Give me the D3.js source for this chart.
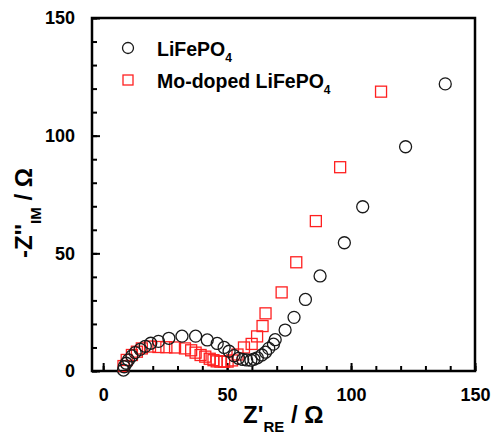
<!DOCTYPE html>
<html>
<head>
<meta charset="utf-8">
<script src="https://cdn.jsdelivr.net/npm/d3@7"></script>
<style>
  body { margin: 0; background: #fff; }
  text { font-family: "Liberation Sans", Arial, sans-serif; font-weight: bold; }
</style>
</head>
<body>
<div id="chart"></div>
<script>
// LiFePO4 (circles)
var pureX = [8.2, 8.5, 9.3, 10.2, 11.6, 12.9, 14.9, 17, 19.2, 22.3, 26.5, 31.8, 37.3, 42, 46, 48.8, 50.8, 52.8, 54.6, 56.3,
             57.9, 59.6, 60.8, 62.2, 64, 65.5, 66.8, 68.7, 69.4, 73.4, 77, 81.6, 87.5, 97.3, 104.7, 122, 138];
var pureY = [0.4, 1.8, 3.3, 4.7, 6.4, 7.8, 9.2, 10.5, 11.8, 12.6, 13.9, 14.8, 14.8, 13.2, 11.7, 10, 8.4, 6.5, 5.4, 4.9,
             4.7, 4.6, 5.0, 5.6, 6.8, 8.0, 9.6, 11.4, 13.3, 17.4, 22.8, 30.4, 40.4, 54.5, 69.8, 95.3, 122];
// Mo-doped LiFePO4 (squares)
var moX = [8.2, 9.5, 11.6, 13.6, 15.6, 18.9, 22.3, 25.5, 29, 33, 35.5, 37.3, 39.3, 41.2, 43, 44.5, 45.8, 47.3, 48.8, 50.2,
           52, 54.2, 56.8, 59.9, 62.1, 64.3, 65.5, 72, 77.9, 85.8, 95.6, 112.1];
var moY = [2.1, 4.7, 6.8, 8.2, 9.6, 10.4, 10.2, 10.1, 10, 9.6, 8.8, 7.8, 6.8, 6.1, 5.2, 4.6, 4.1, 4, 4, 4,
           4.5, 7, 10, 11.5, 14.7, 19.1, 24.5, 33.4, 46.2, 63.7, 86.6, 118.7];
var majorTicks = [0, 50, 100, 150];
var minorTicks = d3.range(0, 151, 10);

var padding = { left: 92, right: 475, top: 18, bottom: 371 };

var svg = d3.select("#chart").append("svg")
    .attr("width", 495)
    .attr("height", 436);

var x = d3.scaleLinear().domain([-4.5, 150]).range([padding.left, padding.right]);
var y = d3.scaleLinear().domain([0, 150]).range([padding.bottom, padding.top]);

// ticks (inward)
var gx = svg.append("g").attr("transform", "translate(0," + padding.bottom + ")");
gx.call(d3.axisBottom(x).tickValues(minorTicks).tickSize(-5).tickFormat(""));
gx.append("g").call(d3.axisBottom(x).tickValues(majorTicks).tickSize(-8).tickPadding(17).tickFormat(d3.format("d")));
gx.selectAll("path").remove();
gx.selectAll("line").attr("stroke", "#000").attr("stroke-width", 2);
gx.selectAll("text").style("font-size", "18px").attr("fill", "#000")
    .style("font-family", "'Liberation Sans', Arial, sans-serif").style("font-weight", "bold");

var gy = svg.append("g").attr("transform", "translate(" + padding.left + ",0)");
gy.call(d3.axisLeft(y).tickValues(minorTicks).tickSize(-5).tickFormat(""));
gy.append("g").call(d3.axisLeft(y).tickValues(majorTicks).tickSize(-8).tickPadding(17).tickFormat(d3.format("d")));
gy.selectAll("path").remove();
gy.selectAll("line").attr("stroke", "#000").attr("stroke-width", 2);
gy.selectAll("text").style("font-size", "18px").attr("fill", "#000")
    .style("font-family", "'Liberation Sans', Arial, sans-serif").style("font-weight", "bold");

// frame
svg.append("rect")
    .attr("x", padding.left).attr("y", padding.top)
    .attr("width", padding.right - padding.left).attr("height", padding.bottom - padding.top)
    .attr("fill", "none").attr("stroke", "#000").attr("stroke-width", 2.5);

// data
var pure = pureX.map(function (d, i) { return [d, pureY[i]]; });
var mo = moX.map(function (d, i) { return [d, moY[i]]; });

svg.append("g").selectAll("rect").data(mo).enter().append("rect")
    .attr("x", d => x(d[0]) - 5.5).attr("y", d => y(d[1]) - 5.5)
    .attr("width", 11).attr("height", 11)
    .attr("fill", "none").attr("stroke", "#ff2020").attr("stroke-width", 1.3);

svg.append("g").selectAll("circle").data(pure).enter().append("circle")
    .attr("cx", d => x(d[0])).attr("cy", d => y(d[1])).attr("r", 6)
    .attr("fill", "none").attr("stroke", "#1a1a1a").attr("stroke-width", 1.3);

// legend
svg.append("circle").attr("cx", 128).attr("cy", 48).attr("r", 5.5)
    .attr("fill", "none").attr("stroke", "#1a1a1a").attr("stroke-width", 1.3);
var t1 = svg.append("text").attr("x", 157).attr("y", 55.5).style("font-size", "19.5px");
t1.append("tspan").text("LiFePO");
t1.append("tspan").attr("dy", 6).style("font-size", "12px").text("4");

svg.append("rect").attr("x", 123).attr("y", 75).attr("width", 10).attr("height", 10)
    .attr("fill", "none").attr("stroke", "#ff2020").attr("stroke-width", 1.3);
var t2 = svg.append("text").attr("x", 157).attr("y", 88).style("font-size", "19.5px");
t2.append("tspan").text("Mo-doped LiFePO");
t2.append("tspan").attr("dy", 6).style("font-size", "12px").text("4");

// axis titles
var xt = svg.append("text").attr("x", 243).attr("y", 423).style("font-size", "24px");
xt.append("tspan").text("Z'");
xt.append("tspan").attr("dy", 9).style("font-size", "15px").text("RE");
xt.append("tspan").attr("dy", -9).text(" / Ω");

var yt = svg.append("text").attr("transform", "translate(32,213) rotate(-90)")
    .attr("text-anchor", "middle").style("font-size", "24px");
yt.append("tspan").text("-Z''");
yt.append("tspan").attr("dy", 9).style("font-size", "15px").text("IM");
yt.append("tspan").attr("dy", -9).text(" / Ω");
</script>
</body>
</html>
